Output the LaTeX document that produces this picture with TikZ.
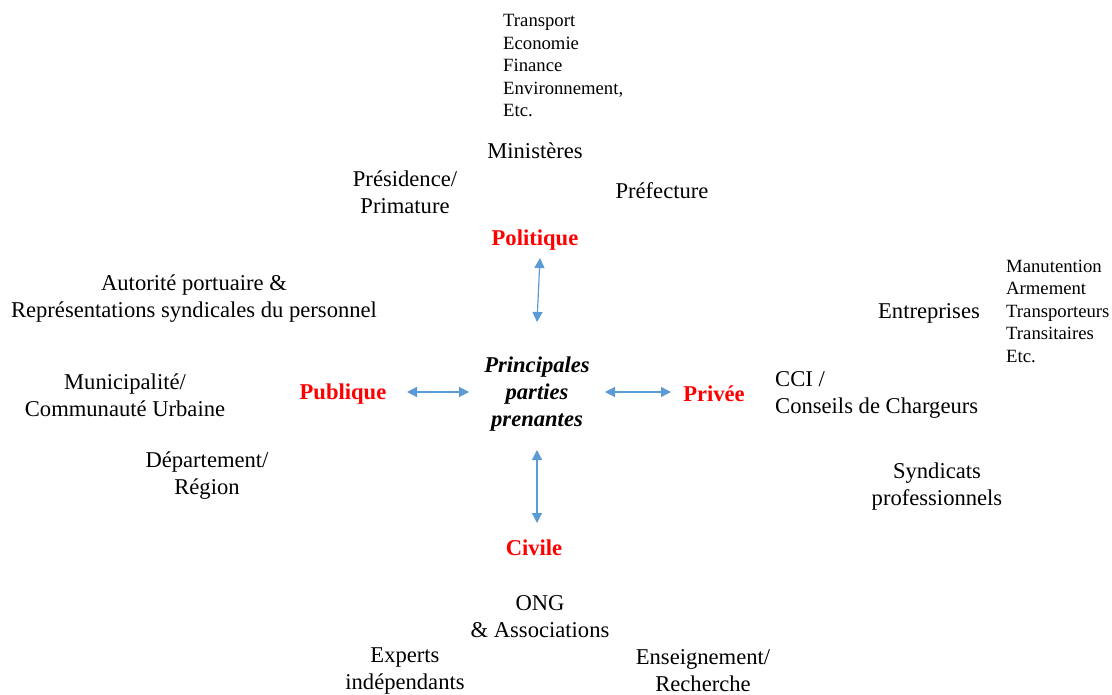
\documentclass[tikz,border=0pt]{standalone}
\usepackage{fontspec}
\setmainfont{Liberation Serif}
\usetikzlibrary{arrows.meta}
\definecolor{arrowblue}{HTML}{5B9BD5}
\definecolor{catred}{HTML}{FF0000}
\tikzset{
  lbl/.style={font=\fontsize{22.6}{27}\selectfont, align=center, inner sep=0pt},
  small/.style={font=\fontsize{18.7}{22.5}\selectfont, align=left, inner sep=0pt, anchor=west},
  cat/.style={font=\fontsize{22.6}{27}\selectfont\bfseries, text=catred, inner sep=0pt},
  core/.style={font=\fontsize{22.6}{27}\selectfont\bfseries\itshape, align=center, inner sep=0pt},
  link/.style={draw=arrowblue, line width=1.2pt, {Triangle[width=10pt,length=10pt]}-{Triangle[width=10pt,length=10pt]}}
}
\begin{document}
\begin{tikzpicture}[x=1pt,y=-1pt]
\useasboundingbox (0,0) rectangle (1112,695);
% centre
\node[core] (centre) at (537,394) {Principales\\parties\\prenantes};
% categories
\node[cat] (pol) at (535,240) {Politique};
\node[cat] (pub) at (343,394) {Publique};
\node[cat] (priv) at (714,394) {Privée};
\node[cat] (civ) at (534,548) {Civile};
% arrows
\coordinate (ptop) at (540,258);
\coordinate (pbot) at (537,322);
\coordinate (lL) at (407,392);
\coordinate (lR) at (469,392);
\coordinate (rL) at (605,392);
\coordinate (rR) at (671,392);
\coordinate (ctop) at (537,450);
\coordinate (cbot) at (537,523);
\draw[link] (ptop) -- (pbot);
\draw[link] (lL) -- (lR);
\draw[link] (rL) -- (rR);
\draw[link] (ctop) -- (cbot);
% politique
\node[small] (minlist) at (503,66) {Transport\\Economie\\Finance\\Environnement,\\Etc.};
\node[lbl] (min) at (535,151) {Ministères};
\node[lbl] (pres) at (405,192) {Présidence/\\Primature};
\node[lbl] (pref) at (662,191) {Préfecture};
% publique
\node[lbl] (port) at (194,299) {Autorité portuaire \&\\Représentations syndicales du personnel};
\node[lbl] (muni) at (125,395) {Municipalité/\\Communauté Urbaine};
\node[lbl] (dep) at (207,476) {Département/\\Région};
% privée
\node[lbl] (ent) at (929,313) {Entreprises};
\node[small] (entlist) at (1006,311) {Manutention\\Armement\\Transporteurs\\Transitaires\\Etc.};
\node[lbl, align=left, anchor=west] (cci) at (775,395) {CCI /\\Conseils de Chargeurs};
\node[lbl] (synd) at (937,487) {Syndicats\\professionnels};
% civile
\node[lbl] (ong) at (540,617) {ONG\\\& Associations};
\node[lbl] (exp) at (405,671) {Experts\\indépendants};
\node[lbl] (ens) at (703,671) {Enseignement/\\Recherche};
\end{tikzpicture}
\end{document}
